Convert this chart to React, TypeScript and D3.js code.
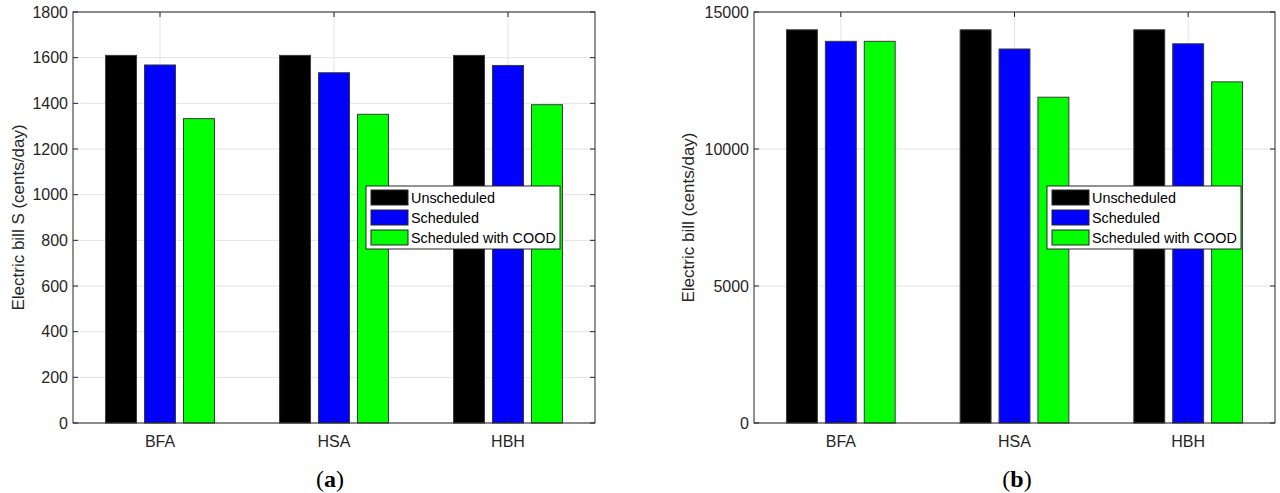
import React from "react";
import * as d3 from "d3";

const categories = ["BFA", "HSA", "HBH"];
const seriesNames = ["Unscheduled", "Scheduled", "Scheduled with COOD"];
const seriesColors = ["#000000", "#0000ff", "#00ff00"];

const billSValues = [
  [1610, 1610, 1610],
  [1568, 1534, 1566],
  [1333, 1352, 1394],
];
const billValues = [
  [14350, 14350, 14350],
  [13930, 13650, 13840],
  [13930, 11890, 12450],
];
const ticksA = [0, 200, 400, 600, 800, 1000, 1200, 1400, 1600, 1800];
const ticksB = [0, 5000, 10000, 15000];

const FONT = "'Liberation Sans', Arial, Helvetica, sans-serif";

type PanelProps = {
  x0: number;
  x1: number;
  y0: number;
  y1: number;
  values: number[][];
  yMax: number;
  ticks: number[];
  yLabel: string;
  yLabelX: number;
  legendX: number;
  subLabel: string;
  subX: number;
};

function Panel(p: PanelProps) {
  const x = d3.scaleLinear().domain([0.5, 3.5]).range([p.x0, p.x1]);
  const y = d3.scaleLinear().domain([0, p.yMax]).range([p.y1, p.y0]);
  const unit = x(2) - x(1);
  const offset = unit * 0.224;
  const bw = unit * 0.178;
  const legendY = 186;
  const legendW = 194;
  const legendH = 63;
  return (
    <g>
      {/* grid */}
      {p.ticks.map((t) => (
        <line key={"gy" + t} x1={p.x0} x2={p.x1} y1={y(t)} y2={y(t)} stroke="#e3e3e3" strokeWidth={1} />
      ))}
      {categories.map((c, i) => (
        <line key={"gx" + c} x1={x(i + 1)} x2={x(i + 1)} y1={p.y0} y2={p.y1} stroke="#e3e3e3" strokeWidth={1} />
      ))}
      {/* bars */}
      {p.values.map((series, s) =>
        series.map((v, i) => (
          <rect
            key={s + "-" + i}
            x={x(i + 1) + (s - 1) * offset - bw / 2}
            y={y(v)}
            width={bw}
            height={y(0) - y(v)}
            fill={seriesColors[s]}
            stroke="#3a3a3a"
            strokeWidth={1}
          />
        ))
      )}
      {/* axes box */}
      <rect x={p.x0} y={p.y0} width={p.x1 - p.x0} height={p.y1 - p.y0} fill="none" stroke="#262626" strokeWidth={1} />
      {/* ticks */}
      {p.ticks.map((t) => (
        <g key={"t" + t}>
          <line x1={p.x0} x2={p.x0 + 5} y1={y(t)} y2={y(t)} stroke="#262626" />
          <line x1={p.x1} x2={p.x1 - 5} y1={y(t)} y2={y(t)} stroke="#262626" />
          <text x={p.x0 - 5} y={y(t)} dy="0.35em" textAnchor="end" fontSize={16} fill="#262626" fontFamily={FONT}>
            {t}
          </text>
        </g>
      ))}
      {categories.map((c, i) => (
        <g key={"c" + c}>
          <line x1={x(i + 1)} x2={x(i + 1)} y1={p.y1} y2={p.y1 - 5} stroke="#262626" />
          <line x1={x(i + 1)} x2={x(i + 1)} y1={p.y0} y2={p.y0 + 5} stroke="#262626" />
          <text x={x(i + 1)} y={p.y1 + 18} dy="0.35em" textAnchor="middle" fontSize={16} fill="#262626" fontFamily={FONT}>
            {c}
          </text>
        </g>
      ))}
      {/* y label */}
      <text
        transform={`translate(${p.yLabelX},${(p.y0 + p.y1) / 2}) rotate(-90)`}
        textAnchor="middle"
        dy="0.35em"
        fontSize={17}
        fill="#262626"
        fontFamily={FONT}
      >
        {p.yLabel}
      </text>
      {/* legend */}
      <rect x={p.legendX} y={legendY} width={legendW} height={legendH} fill="#ffffff" stroke="#262626" strokeWidth={1} />
      {seriesNames.map((n, s) => (
        <g key={n}>
          <rect x={p.legendX + 5} y={legendY + 4 + s * 20} width={37} height={15} fill={seriesColors[s]} stroke="#262626" strokeWidth={1} />
          <text x={p.legendX + 45} y={legendY + 11.5 + s * 20} dy="0.35em" fontSize={14.4} fill="#000" fontFamily={FONT}>
            {n}
          </text>
        </g>
      ))}
      {/* sub label */}
      <text x={p.subX} y={487} textAnchor="middle" fontSize={24} fontFamily="'Liberation Serif', 'Times New Roman', serif" fill="#000">
        (<tspan fontWeight="bold">{p.subLabel}</tspan>)
      </text>
    </g>
  );
}

export default function App() {
  return (
    <svg width={1280} height={493} style={{ position: "absolute", left: 0, top: 0, background: "#fff" }}>
      <rect width={1280} height={493} fill="#fff" />
      <Panel
        x0={73}
        x1={595}
        y0={12}
        y1={423}
        values={billSValues}
        yMax={1800}
        ticks={ticksA}
        yLabel="Electric bill S (cents/day)"
        yLabelX={18}
        legendX={366}
        subLabel="a"
        subX={330}
      />
      <Panel
        x0={754}
        x1={1275}
        y0={12}
        y1={423}
        values={billValues}
        yMax={15000}
        ticks={ticksB}
        yLabel="Electric bill (cents/day)"
        yLabelX={688}
        legendX={1047}
        subLabel="b"
        subX={1017}
      />
    </svg>
  );
}
